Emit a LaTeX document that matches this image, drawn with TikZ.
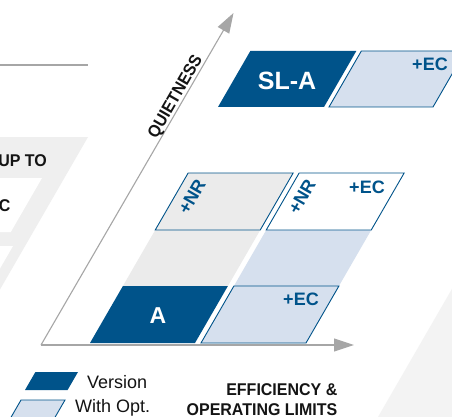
\documentclass[tikz,border=0pt]{standalone}
\usepackage{fontspec}
\setmainfont{Liberation Sans}
\newfontfamily\condsans{Liberation Sans}[FakeStretch=0.94]
\usetikzlibrary{arrows.meta}
\definecolor{dblue}{RGB}{0,83,138}
\definecolor{lblue}{RGB}{214,224,238}
\definecolor{bandgrey}{RGB}{235,235,235}
\definecolor{axgrey}{RGB}{166,166,166}
\definecolor{bggrey}{RGB}{239,239,239}
\definecolor{faintgrey}{RGB}{243,243,243}
\definecolor{ink}{RGB}{20,20,20}
\tikzset{
  darkbox/.style={fill=dblue},
  optbox/.style={fill=lblue,draw=dblue,line width=0.9pt},
  nrbox/.style={fill=bandgrey,draw=dblue,line width=0.9pt},
  whitebox/.style={fill=white,draw=dblue,line width=0.9pt},
  axisline/.style={draw=axgrey,line width=1.1pt,-{Triangle[length=20pt,width=13pt]}},
  axislabel/.style={font=\condsans\bfseries\fontsize{17}{19}\selectfont,text=ink,inner sep=0pt},
  eclabel/.style={font=\bfseries\fontsize{18}{20}\selectfont,text=dblue,inner sep=0pt},
  vlabel/.style={font=\bfseries\fontsize{25}{28}\selectfont,text=white,inner sep=0pt},
  legendlabel/.style={font=\fontsize{18}{20}\selectfont,text=ink,inner sep=0pt,anchor=base west},
}
\begin{document}
\begin{tikzpicture}[x=1pt,y=-1pt]
\useasboundingbox (0,0) rectangle (452,417);
\clip (0,0) rectangle (452,417);
\fill[white] (0,0) rectangle (452,417);

% left partial background shape
\fill[bggrey] (-5,137) -- (88,137) -- (-2,292.9) -- (-5,292.9) -- cycle;
\fill[white] (-5,178) -- (42,178) -- (10.8,232) -- (-5,232) -- cycle;
\fill[white] (-5,246) -- (13,246) -- (0,268.5) -- (-5,268.5) -- cycle;
\draw[axgrey,line width=1.1pt] (0,65) -- (88,65);
\node[axislabel,anchor=base east] (tup) at (47,166) {UP TO};
\node[axislabel,anchor=base east] (tc) at (10.5,211) {C};

% faint bottom-right shape
\fill[faintgrey] (378,417) -- (452,288.8) -- (455,288.8) -- (455,417) -- cycle;

% bands between rows
\fill[bandgrey] (122.91,286) -- (155.24,230) -- (260.24,230) -- (227.91,286) -- cycle;
\fill[lblue] (233.91,286) -- (266.24,230) -- (371.24,230) -- (338.91,286) -- cycle;

% bottom row
\path[darkbox] (90,343) -- (122.91,286) -- (227.91,286) -- (195,343) -- cycle;
\path[optbox] (201,343) -- (233.91,286) -- (338.91,286) -- (306,343) -- cycle;
% middle row
\path[nrbox] (155.24,230) -- (188.15,173) -- (293.15,173) -- (260.24,230) -- cycle;
\path[whitebox] (266.24,230) -- (299.15,173) -- (404.15,173) -- (371.24,230) -- cycle;
% top row
\path[darkbox] (218,107) -- (250.33,51) -- (356.33,51) -- (324,107) -- cycle;
\path[optbox] (329,107) -- (361.33,51) -- (465.33,51) -- (433,107) -- cycle;

% axes
\coordinate (o) at (41,345);
\coordinate (xend) at (354,345);
\coordinate (yend) at (233.5,13);
\draw[axisline] (o) -- (xend);
\draw[axisline] (o) -- (yend);
\node[axislabel,rotate=60] (tq) at (176,97) {QUIETNESS};

% labels in boxes
\node[vlabel] (tsla) at (287,81) {SL-A};
\node[vlabel,font=\bfseries\fontsize{23}{26}\selectfont] (ta) at (158,316) {A};
\node[eclabel] (ec1) at (430,64) {+EC};
\node[eclabel] (ec2) at (367,187) {+EC};
\node[eclabel] (ec3) at (301,299) {+EC};
\node[eclabel,rotate=60] (nr1) at (192,197) {+NR};
\node[eclabel,rotate=60] (nr2) at (302,197) {+NR};

% axis title
\node[axislabel,anchor=base east] (te1) at (337.5,395.7) {EFFICIENCY \&};
\node[axislabel,anchor=base east] (te2) at (337.5,415) {OPERATING LIMITS};

% legend
\path[darkbox] (25,390) -- (35.4,372) -- (78,372) -- (67.6,390) -- cycle;
\node[legendlabel] (lv) at (87,388) {Version};
\path[optbox] (10.6,418) -- (21,400) -- (65,400) -- (54.6,418) -- cycle;
\node[legendlabel] (lo) at (75,412.5) {With Opt.};
\end{tikzpicture}
\end{document}
